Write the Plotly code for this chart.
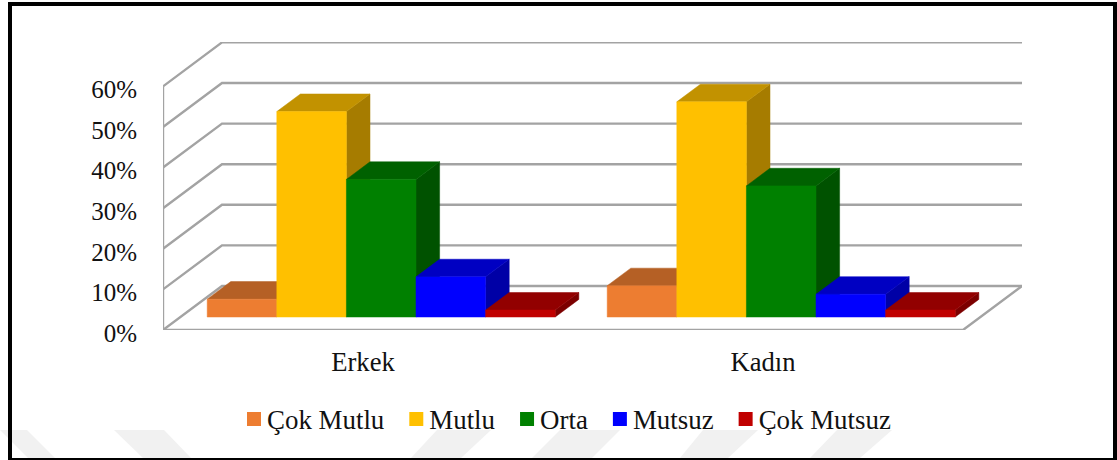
import plotly.graph_objects as go

# ---- data ----
categories = ["Erkek", "Kadın"]
series_names = ["Çok Mutlu", "Mutlu", "Orta", "Mutsuz", "Çok Mutsuz"]
cok_mutlu = [4.4, 7.7]
mutlu = [50.6, 53.0]
orta = [33.9, 32.3]
mutsuz = [9.9, 5.6]
cok_mutsuz = [1.7, 1.7]
y_ticks = [0, 10, 20, 30, 40, 50, 60]
y_labels = ["0%", "10%", "20%", "30%", "40%", "50%", "60%"]

front_colors = ["#ED7D31", "#FFC000", "#008000", "#0000FF", "#C00000"]
top_colors = ["#B56025", "#C29200", "#006100", "#0000C2", "#920000"]
side_colors = ["#A05420", "#A67C00", "#005200", "#0000A6", "#7C0000"]
values = [cok_mutlu, mutlu, orta, mutsuz, cok_mutsuz]

# ---- oblique projection in data units ----
W, H = 1117, 460
PLOT_L, PLOT_R, PLOT_T, PLOT_B = 163, 1022, 42, 330
PX_PER_CAT = 400.0
PX_PER_PCT = 4.06
X0_PX = 363.0
DEPTH_X = 59 / PX_PER_CAT
DEPTH_Y = 44 / PX_PER_PCT
BAR_W = 0.174
BAR_D0, BAR_D1 = 0.295, 0.695
BAR_SHIFT = 0.002
X_MIN, X_MAX = -0.5, 1.5


def proj(x, y, d):
    return x + d * DEPTH_X, y + d * DEPTH_Y


def px(v):
    return (v - PLOT_L) / (PLOT_R - PLOT_L)


def py(v):
    return (PLOT_B - v) / (PLOT_B - PLOT_T)


fig = go.Figure()

# walls and floor
gx, gy = [], []
for t in y_ticks:
    for p in [proj(X_MIN, t, 0), proj(X_MIN, t, 1), proj(X_MAX, t, 1)]:
        gx.append(p[0]); gy.append(p[1])
    gx.append(None); gy.append(None)
for p in [proj(X_MIN, 60, 0), proj(X_MIN, 0, 0), proj(X_MAX, 0, 0), proj(X_MAX, 0, 1)]:
    gx.append(p[0]); gy.append(p[1])
fig.add_trace(go.Scatter(x=gx, y=gy, mode="lines", showlegend=False, hoverinfo="skip",
                         line=dict(color="#A3A3A3", width=2.4)))


def poly(pts, color):
    fig.add_trace(go.Scatter(x=[p[0] for p in pts] + [pts[0][0]],
                             y=[p[1] for p in pts] + [pts[0][1]],
                             mode="lines", fill="toself", fillcolor=color,
                             line=dict(color=color, width=0.5),
                             showlegend=False, hoverinfo="skip"))


# bars as boxes, drawn left to right so neighbours overlap properly
for g in range(len(categories)):
    for s, vals in enumerate(values):
        v = vals[g]
        x0 = g + BAR_SHIFT - 2.5 * BAR_W + s * BAR_W
        x1 = x0 + BAR_W
        poly([proj(x1, 0, BAR_D0), proj(x1, 0, BAR_D1), proj(x1, v, BAR_D1), proj(x1, v, BAR_D0)], side_colors[s])
        poly([proj(x0, v, BAR_D0), proj(x1, v, BAR_D0), proj(x1, v, BAR_D1), proj(x0, v, BAR_D1)], top_colors[s])
        poly([proj(x0, 0, BAR_D0), proj(x1, 0, BAR_D0), proj(x1, v, BAR_D0), proj(x0, v, BAR_D0)], front_colors[s])

# legend entries
for s, name in enumerate(series_names):
    fig.add_trace(go.Scatter(x=[None], y=[None], mode="markers", name=name,
                             marker=dict(symbol="square", size=14, color=front_colors[s])))

# backdrop: faint watermark and black frame
shapes = []
for pts in [[(0, 430), (27, 430), (55, 458), (28, 458)],
            [(114, 430), (164, 430), (191, 458), (143, 458)],
            [(437, 430), (491, 430), (461, 458), (411, 458)],
            [(560, 430), (620, 430), (592, 458), (532, 458)],
            [(703, 430), (758, 430), (728, 458), (680, 458)],
            [(837, 430), (892, 430), (860, 458), (810, 458)]]:
    path = "M " + " L ".join(f"{px(a):.5f} {py(b):.5f}" for a, b in pts) + " Z"
    shapes.append(dict(type="path", xref="paper", yref="paper", path=path,
                       fillcolor="#F1F1F1", line=dict(width=0), layer="below"))
shapes.append(dict(type="rect", xref="paper", yref="paper",
                   x0=px(10), x1=px(1115), y0=py(4), y1=py(460),
                   line=dict(color="black", width=4), fillcolor="rgba(0,0,0,0)", layer="below"))

FONT = "Liberation Serif, Times New Roman, serif"
fig.update_layout(
    width=W, height=H, autosize=False,
    margin=dict(l=PLOT_L, r=W - PLOT_R, t=PLOT_T, b=H - PLOT_B, pad=0),
    paper_bgcolor="white", plot_bgcolor="rgba(0,0,0,0)",
    font=dict(family=FONT, size=25, color="#111111"),
    shapes=shapes,
    showlegend=True,
    legend=dict(orientation="h", x=px(227), xanchor="left", y=py(419), yanchor="middle",
                bgcolor="rgba(0,0,0,0)", font=dict(size=26.9, family=FONT),
                traceorder="normal"),
    xaxis=dict(range=[X_MIN, (PLOT_R - X0_PX) / PX_PER_CAT], tickmode="array",
               tickvals=list(range(len(categories))), ticktext=categories,
               showgrid=False, zeroline=False, showline=False,
               ticks="outside", ticklen=8, tickcolor="rgba(0,0,0,0)",
               tickfont=dict(size=26.6, family=FONT)),
    yaxis=dict(range=[0, (PLOT_B - PLOT_T) / PX_PER_PCT], tickmode="array",
               tickvals=y_ticks, ticktext=y_labels, ticklabelshift=3,
               showgrid=False, zeroline=False, showline=False,
               ticks="outside", ticklen=20, tickcolor="rgba(0,0,0,0)",
               tickfont=dict(size=25, family=FONT)),
)

# remove the page's default margin; pull legend swatches next to their labels
post = """
document.documentElement.style.overflow = 'hidden';
document.body.style.margin = '0';
document.querySelectorAll('.legend .legendsymbols').forEach(function (el) {
  el.setAttribute('transform', 'translate(7,0)');
});
"""
fig.write_html("out.html", post_script=post, config={"displayModeBar": False})
